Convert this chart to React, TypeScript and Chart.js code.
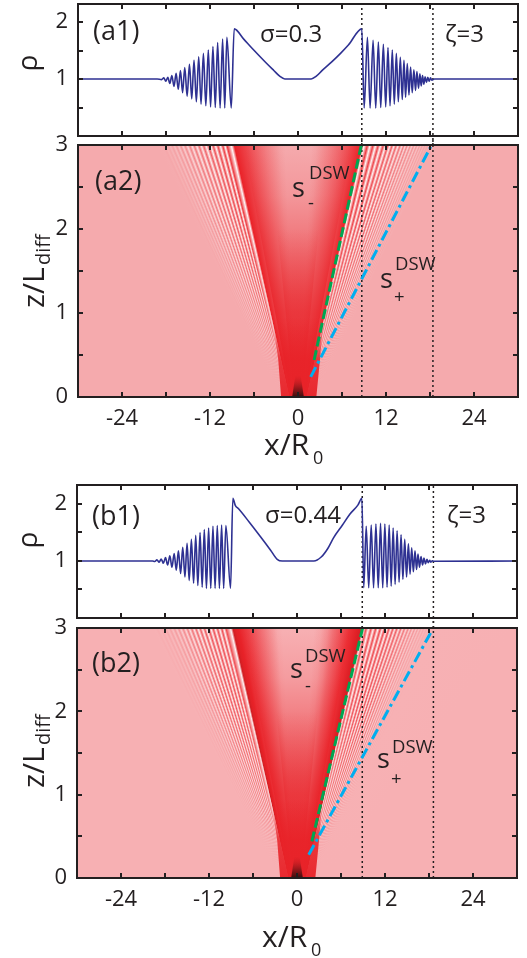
import React, { useEffect, useRef } from "react";
import { Chart, registerables } from "chart.js";
Chart.register(...registerables);

// ---------------- axis ticks ----------------
const xTickValues = [-24, -18, -12, -6, 0, 6, 12, 18, 24];
const xLabelValues = [-24, -12, 0, 12, 24];
const rhoTickValues = [0.5, 1, 1.5, 2];
const rhoLabelValues = [1, 2];
const zTickValues = [0.5, 1, 1.5, 2, 2.5];
const zLabelValues = [0, 1, 2, 3];

// ---------------- (a1) density profile, sigma = 0.3 ----------------
const a1LeftX = [-30, -19.2, -18.6, -18.3, -18.03, -17.75, -17.48, -17.2, -16.91, -16.62, -16.33, -16.03, -15.74, -15.44, -15.12, -14.8, -14.49, -14.18, -13.86, -13.54, -13.22, -12.9, -12.57, -12.23, -11.92, -11.6, -11.28, -10.96, -10.62, -10.28, -9.99, -9.7, -9.1];
const a1LeftRho = [1, 1.0, 0.99, 1.02, 0.96, 1.03, 0.92, 1.06, 0.87, 1.1, 0.82, 1.15, 0.76, 1.2, 0.7, 1.26, 0.65, 1.33, 0.6, 1.39, 0.56, 1.45, 0.53, 1.51, 0.51, 1.57, 0.5, 1.64, 0.49, 1.7, 0.49, 1.73, 0.49];
const a1MidX = [-8.7, -7.4, -6.2, -4.4, -3.3, -2.5, -1.8, 1.8, 2.5, 3.3, 4.6, 5.8, 6.9, 8.7];
const a1MidRho = [1.88, 1.7, 1.53, 1.29, 1.15, 1.05, 1.0, 1.0, 1.05, 1.15, 1.3, 1.45, 1.6, 1.88];
const a1RightX = [9.02, 9.47, 9.83, 10.24, 10.6, 10.96, 11.28, 11.64, 11.96, 12.27, 12.55, 12.86, 13.13, 13.41, 13.68, 13.95, 14.22, 14.45, 14.67, 14.9, 15.13, 15.35, 15.58, 15.8, 16.03, 16.21, 16.44, 16.62, 16.8, 16.98, 17.16, 17.34, 17.52, 17.7, 17.89, 18.07, 18.25, 18.6, 30];
const a1RightRho = [0.49, 1.73, 0.49, 1.68, 0.49, 1.65, 0.5, 1.61, 0.51, 1.55, 0.53, 1.51, 0.56, 1.45, 0.6, 1.38, 0.64, 1.33, 0.68, 1.27, 0.72, 1.21, 0.76, 1.16, 0.8, 1.13, 0.84, 1.09, 0.88, 1.06, 0.91, 1.04, 0.94, 1.03, 0.96, 1.02, 0.98, 1.0, 1];

// ---------------- (b1) density profile, sigma = 0.44 ----------------
const b1LeftX = [-30, -19.7, -19.4, -19.1, -18.8, -18.52, -18.22, -17.93, -17.64, -17.34, -17.05, -16.75, -16.46, -16.17, -15.87, -15.58, -15.28, -14.99, -14.7, -14.4, -14.1, -13.81, -13.52, -13.22, -12.93, -12.64, -12.35, -12.05, -11.76, -11.46, -11.17, -10.87, -10.58, -10.28, -10.0, -9.7, -9.06];
const b1LeftRho = [1, 1.0, 0.99, 1.02, 0.98, 1.035, 0.96, 1.06, 0.93, 1.09, 0.89, 1.13, 0.84, 1.18, 0.78, 1.24, 0.72, 1.31, 0.66, 1.38, 0.61, 1.45, 0.57, 1.5, 0.54, 1.55, 0.52, 1.58, 0.52, 1.61, 0.52, 1.62, 0.52, 1.63, 0.52, 1.62, 0.52];
const b1MidX = [-8.75, -8.4, -8.0, -6.5, -5.0, -3.6, -2.7, -2.0, 2.3, 3.3, 4.2, 5.0, 6.2, 7.2, 8.3, 8.85];
const b1MidRho = [2.1, 1.97, 1.92, 1.68, 1.43, 1.19, 1.03, 1.0, 1.0, 1.07, 1.22, 1.41, 1.63, 1.82, 1.98, 2.1];
const b1RightX = [9.1, 9.44, 9.78, 10.12, 10.44, 10.76, 11.08, 11.39, 11.69, 11.98, 12.28, 12.57, 12.84, 13.11, 13.38, 13.65, 13.92, 14.19, 14.44, 14.69, 14.94, 15.19, 15.42, 15.64, 15.87, 16.09, 16.3, 16.5, 16.7, 16.91, 17.12, 17.32, 17.52, 17.72, 17.9, 18.09, 18.27, 18.45, 18.6, 30];
const b1RightRho = [0.53, 1.61, 0.53, 1.63, 0.53, 1.65, 0.53, 1.66, 0.53, 1.65, 0.54, 1.63, 0.56, 1.58, 0.59, 1.53, 0.63, 1.46, 0.68, 1.38, 0.72, 1.3, 0.77, 1.23, 0.81, 1.18, 0.85, 1.12, 0.89, 1.08, 0.93, 1.05, 0.95, 1.03, 0.97, 1.01, 0.98, 1.005, 0.995, 1];

const a1X = [...a1LeftX, ...a1MidX, ...a1RightX];
const a1Rho = [...a1LeftRho, ...a1MidRho, ...a1RightRho];
const b1X = [...b1LeftX, ...b1MidX, ...b1RightX];
const b1Rho = [...b1LeftRho, ...b1MidRho, ...b1RightRho];

// ---------------- DSW edge lines (x, z) ----------------
const a2MinusX = [2.2, 8.64];
const a2MinusZ = [0.44, 3.0];
const a2PlusX = [1.73, 18.1];
const a2PlusZ = [0.24, 2.98];
const b2MinusX = [2.03, 8.95];
const b2MinusZ = [0.44, 3.0];
const b2PlusX = [1.6, 18.4];
const b2PlusZ = [0.28, 2.97];

// dotted guide lines
const aGuideX = [8.7, 18.4];
const bGuideX = [8.9, 18.6];

// ---------------- heat map shapes (x, z) ----------------
const APEX_Z = -0.45;
const heatX = [-30, -30, 30, 30];
const heatZ = [0, 3, 3, 0];
const aFadeLX = [0, -8.9, -30, -30];
const aFadeRX = [0, 8.85, 30, 30];
const bFadeLX = [0, -8.9, -30, -30];
const bFadeRX = [0, 8.97, 30, 30];
const fadeZ = [APEX_Z, 3, 3, APEX_Z];
const fanOuterX = [0, -7.4, 7.4];
const fanInnerX = [0, -4, 4];
const fanZ = [APEX_Z, 3, 3];
const baseX = [-2.3, -2.7, -3.5, 3.5, 3.0, 2.5];
const baseZ = [0, 0.45, 0.95, 0.95, 0.45, 0];
const coreX = [-0.8, -0.35, 0.35, 0.8];
const coreZ = [0, 0.26, 0.26, 0];

// colour maps (rho -> rgb)
const cmapRho = [0.45, 0.7, 1.0, 1.35, 1.7, 1.9, 2.6, 3.6];
const cmapA = [
  [255, 250, 250],
  [250, 212, 214],
  [245, 170, 173],
  [241, 118, 122],
  [237, 62, 68],
  [234, 32, 38],
  [150, 20, 24],
  [45, 12, 12],
];
const cmapB = [
  [255, 250, 250],
  [251, 216, 218],
  [247, 176, 179],
  [242, 122, 126],
  [238, 66, 72],
  [234, 34, 40],
  [150, 20, 24],
  [45, 12, 12],
];

const INK = "#231f20";
const FONT = '"Open Sans", "Noto Sans", sans-serif';
const RED = [232, 34, 40];

function rhoColor(r: number, map: number[][]): string {
  if (r <= cmapRho[0]) return `rgb(${map[0].join(",")})`;
  for (let i = 1; i < cmapRho.length; i++) {
    if (r <= cmapRho[i]) {
      const t = (r - cmapRho[i - 1]) / (cmapRho[i] - cmapRho[i - 1]);
      const c = map[i - 1].map((v, k) => Math.round(v + (map[i][k] - v) * t));
      return `rgb(${c.join(",")})`;
    }
  }
  return `rgb(${map[map.length - 1].join(",")})`;
}

const pts = (xs: number[], ys: number[]) => xs.map((x, i) => ({ x, y: ys[i] }));
const rgba = (c: number[], a: number) => `rgba(${c[0]},${c[1]},${c[2]},${a})`;

function conicFill(profX: number[], profRho: number[], map: number[][]) {
  return (ctx: any) => {
    const chart = ctx.chart;
    if (!chart.chartArea) return "rgba(0,0,0,0)";
    const xs = chart.scales.x, ys = chart.scales.y;
    const cx = xs.getPixelForValue(0);
    const cy = ys.getPixelForValue(APEX_Z);
    const ty = ys.getPixelForValue(3);
    const g = chart.ctx.createConicGradient(Math.PI, cx, cy);
    profX.forEach((xv, i) => {
      const px = xs.getPixelForValue(xv);
      const th = Math.atan2(ty - cy, px - cx);
      const off = Math.min(1, Math.max(0, (th + Math.PI) / (2 * Math.PI)));
      g.addColorStop(off, rhoColor(profRho[i], map));
    });
    return g;
  };
}

function vertFill(stops: [number, number[], number][]) {
  return (ctx: any) => {
    const chart = ctx.chart;
    if (!chart.chartArea) return "rgba(0,0,0,0)";
    const ys = chart.scales.y;
    const z0 = stops[0][0], z1 = stops[stops.length - 1][0];
    const g = chart.ctx.createLinearGradient(0, ys.getPixelForValue(z0), 0, ys.getPixelForValue(z1));
    stops.forEach(([z, c, a]) => g.addColorStop((z - z0) / (z1 - z0), rgba(c, a)));
    return g;
  };
}

function shape(data: any[], fill: any, order: number) {
  return {
    data,
    showLine: true,
    fill: "shape",
    backgroundColor: fill,
    borderColor: "rgba(0,0,0,0)",
    borderWidth: 0,
    pointRadius: 0,
    order,
  };
}

function lineDs(data: any[], color: string, width: number, dash: number[], order: number, clip: any = 0) {
  return {
    data,
    showLine: true,
    fill: false,
    borderColor: color,
    borderWidth: width,
    borderDash: dash,
    pointRadius: 0,
    order,
    clip,
  };
}

function heatDatasets(profX: number[], profRho: number[], map: number[][], fadeLX: number[], fadeRX: number[], guides: number[], mX: number[], mZ: number[], pX: number[], pZ: number[]) {
  const pink = map[2];
  const fade: [number, number[], number][] = [
    [0, pink, 1],
    [0.4, pink, 0.9],
    [0.8, pink, 0.58],
    [1.3, pink, 0.3],
    [2.1, pink, 0],
  ];
  return [
    shape(pts(heatX, heatZ), conicFill(profX, profRho, map), 30),
    shape(pts(fadeLX, fadeZ), vertFill(fade), 29),
    shape(pts(fadeRX, fadeZ), vertFill(fade), 29),
    shape(pts(fanOuterX, fanZ), vertFill([[0, RED, 0.9], [1.0, RED, 0.76], [1.7, RED, 0.45], [2.4, RED, 0.14], [3, RED, 0]]), 28),
    shape(pts(fanInnerX, fanZ), vertFill([[0, RED, 0.5], [1.2, RED, 0.32], [2.0, RED, 0]]), 27),
    shape(pts(baseX, baseZ), vertFill([[0, RED, 0.95], [0.45, RED, 0.85], [0.95, RED, 0]]), 26),
    shape(pts(coreX, coreZ), vertFill([[0, [50, 12, 12], 0.95], [0.1, [110, 18, 20], 0.7], [0.26, [200, 28, 34], 0]]), 25),
    ...guides.map((g) => lineDs(pts([g, g], [0, 3.11]), INK, 1.5, [2, 3], 3, false)),
    lineDs(pts(mX, mZ), "#00a651", 3, [10, 4], 2),
    lineDs(pts(pX, pZ), "#00aeef", 3, [11, 4, 3, 4], 1),
  ];
}

function profileDatasets(profX: number[], profRho: number[], guides: number[], low: number, high: number) {
  return [
    ...guides.map((g) => lineDs(pts([g, g], [low, high]), INK, 1.5, [2, 3], 3, false)),
    {
      data: pts(profX, profRho),
      showLine: true,
      fill: false,
      borderColor: "#2e3192",
      borderWidth: 1.6,
      pointRadius: 0,
      cubicInterpolationMode: "monotone",
      order: 1,
    },
  ];
}

type TextItem = { t: string; x: number; y: number; s: number; r?: boolean; align?: CanvasTextAlign };

const decorPlugin = {
  id: "decor",
  afterDraw(chart: any) {
    const o = chart.options.plugins.decor;
    const { ctx, chartArea: a } = chart;
    const xs = chart.scales.x, ys = chart.scales.y;
    const T = 5;
    ctx.save();
    ctx.strokeStyle = INK;
    ctx.lineWidth = 2;
    ctx.beginPath();
    for (const v of xTickValues) {
      const p = Math.round(xs.getPixelForValue(v));
      ctx.moveTo(p, a.top);
      ctx.lineTo(p, a.top + T);
      ctx.moveTo(p, a.bottom);
      ctx.lineTo(p, a.bottom - T);
    }
    for (const v of o.yTicks) {
      const p = Math.round(ys.getPixelForValue(v));
      ctx.moveTo(a.left, p);
      ctx.lineTo(a.left + T, p);
      ctx.moveTo(a.right, p);
      ctx.lineTo(a.right - T, p);
    }
    ctx.stroke();
    ctx.strokeRect(a.left, a.top, a.right - a.left, a.bottom - a.top);
    ctx.fillStyle = INK;
    ctx.font = `22px ${FONT}`;
    ctx.textAlign = "right";
    ctx.textBaseline = "middle";
    for (const v of o.yLabels) ctx.fillText(String(v), o.yLabelX, ys.getPixelForValue(v));
    if (o.xLabelY) {
      ctx.textAlign = "center";
      ctx.textBaseline = "alphabetic";
      for (const v of xLabelValues) ctx.fillText(String(v), xs.getPixelForValue(v), o.xLabelY - o.top);
    }
    ctx.textBaseline = "alphabetic";
    for (const it of o.texts as TextItem[]) {
      ctx.font = `${it.s}px ${FONT}`;
      ctx.textAlign = it.align || "left";
      if (it.r) {
        ctx.save();
        ctx.translate(it.x, it.y - o.top);
        ctx.rotate(-Math.PI / 2);
        ctx.fillText(it.t, 0, 0);
        ctx.restore();
      } else {
        ctx.fillText(it.t, it.x, it.y - o.top);
      }
    }
    ctx.restore();
  },
};

type PanelCfg = {
  top: number;
  height: number;
  padding: { left: number; right: number; top: number; bottom: number };
  yMin: number;
  yMax: number;
  datasets: any[];
  decor: any;
};

const panels: PanelCfg[] = [
  {
    top: 0,
    height: 145,
    padding: { left: 78, right: 9, top: 4, bottom: 9 },
    yMin: 0,
    yMax: 2.316,
    datasets: profileDatasets(a1X, a1Rho, aGuideX, -0.16, 2.316),
    decor: {
      top: 0,
      yTicks: rhoTickValues,
      yLabels: rhoLabelValues,
      yLabelX: 68,
      texts: [
        { t: "(a1)", x: 93, y: 40, s: 27 },
        { t: "σ=0.3", x: 260, y: 41.5, s: 24 },
        { t: "ζ=3", x: 445, y: 41.5, s: 24 },
        { t: "ρ", x: 37, y: 63, s: 28, r: true, align: "center" },
      ],
    },
  },
  {
    top: 130,
    height: 340,
    padding: { left: 78, right: 9, top: 15, bottom: 73 },
    yMin: 0,
    yMax: 3,
    datasets: heatDatasets(a1X, a1Rho, cmapA, aFadeLX, aFadeRX, aGuideX, a2MinusX, a2MinusZ, a2PlusX, a2PlusZ),
    decor: {
      top: 130,
      yTicks: zTickValues,
      yLabels: zLabelValues,
      yLabelX: 68,
      xLabelY: 425,
      texts: [
        { t: "(a2)", x: 95, y: 190, s: 27 },
        { t: "s", x: 292, y: 197, s: 27 },
        { t: "DSW", x: 309, y: 179, s: 18.5 },
        { t: "-", x: 308, y: 209, s: 18.5 },
        { t: "s", x: 380, y: 288, s: 27 },
        { t: "DSW", x: 395, y: 270, s: 18.5 },
        { t: "+", x: 394, y: 303, s: 18.5 },
        { t: "z/L", x: 44, y: 308, s: 30, r: true },
        { t: "diff", x: 50, y: 265, s: 20, r: true },
        { t: "x/R", x: 264, y: 455, s: 30 },
        { t: "0", x: 313, y: 464, s: 18 },
      ],
    },
  },
  {
    top: 470,
    height: 158,
    padding: { left: 77, right: 10, top: 15, bottom: 10 },
    yMin: 0,
    yMax: 2.333,
    datasets: profileDatasets(b1X, b1Rho, bGuideX, -0.175, 2.333),
    decor: {
      top: 470,
      yTicks: rhoTickValues,
      yLabels: rhoLabelValues,
      yLabelX: 67,
      texts: [
        { t: "(b1)", x: 92, y: 525, s: 27 },
        { t: "σ=0.44", x: 265, y: 523, s: 24 },
        { t: "ζ=3", x: 447, y: 523, s: 24 },
        { t: "ρ", x: 37, y: 540, s: 28, r: true, align: "center" },
      ],
    },
  },
  {
    top: 610,
    height: 348,
    padding: { left: 77, right: 10, top: 18, bottom: 80 },
    yMin: 0,
    yMax: 3,
    datasets: heatDatasets(b1X, b1Rho, cmapB, bFadeLX, bFadeRX, bGuideX, b2MinusX, b2MinusZ, b2PlusX, b2PlusZ),
    decor: {
      top: 610,
      yTicks: zTickValues,
      yLabels: zLabelValues,
      yLabelX: 67,
      xLabelY: 906,
      texts: [
        { t: "(b2)", x: 92, y: 672, s: 27 },
        { t: "s", x: 290, y: 678, s: 27 },
        { t: "DSW", x: 305, y: 661.5, s: 18.5 },
        { t: "-", x: 305, y: 692, s: 18.5 },
        { t: "s", x: 377, y: 768, s: 27 },
        { t: "DSW", x: 392, y: 753, s: 18.5 },
        { t: "+", x: 391, y: 785, s: 18.5 },
        { t: "z/L", x: 44, y: 788, s: 30, r: true },
        { t: "diff", x: 50, y: 745, s: 20, r: true },
        { t: "x/R", x: 262, y: 947, s: 30 },
        { t: "0", x: 311, y: 956, s: 18 },
      ],
    },
  },
];

function Panel({ cfg }: { cfg: PanelCfg }) {
  const ref = useRef<HTMLCanvasElement | null>(null);
  useEffect(() => {
    if (!ref.current) return;
    const chart = new Chart(ref.current, {
      type: "scatter",
      data: { datasets: cfg.datasets },
      options: {
        responsive: false,
        animation: false,
        devicePixelRatio: 1,
        events: [],
        layout: { padding: cfg.padding },
        scales: {
          x: { type: "linear", min: -30, max: 30, display: false },
          y: { type: "linear", min: cfg.yMin, max: cfg.yMax, display: false },
        },
        plugins: {
          legend: { display: false },
          tooltip: { enabled: false },
          decor: cfg.decor,
        } as any,
      },
      plugins: [decorPlugin],
    } as any);
    return () => chart.destroy();
  }, [cfg]);
  return (
    <canvas
      ref={ref}
      width={527}
      height={cfg.height}
      style={{ position: "absolute", left: 0, top: cfg.top, width: 527, height: cfg.height }}
    />
  );
}

export default function App() {
  return (
    <div style={{ position: "absolute", left: 0, top: 0, width: 527, height: 958, background: "#fff", overflow: "hidden" }}>
      {panels.map((p, i) => (
        <Panel key={i} cfg={p} />
      ))}
    </div>
  );
}
